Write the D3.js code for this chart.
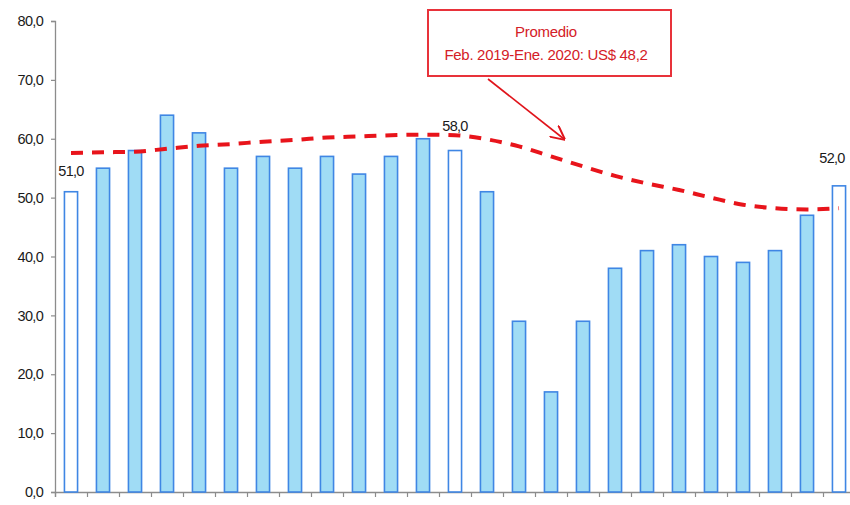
<!DOCTYPE html>
<html>
<head>
<meta charset="utf-8">
<script src="https://cdn.jsdelivr.net/npm/d3@7/dist/d3.min.js"></script>
<style>
  html, body { margin: 0; padding: 0; background: #ffffff; }
  svg { display: block; font-family: "Liberation Sans", Arial, sans-serif; }
</style>
</head>
<body>
<svg id="chart" width="850" height="505"></svg>
<script>
// ---- data ----
const categories = d3.range(25).map(i => "M" + (i + 1));
const barValues = [51, 55, 58, 64, 61, 55, 57, 55, 57, 54, 57, 60, 58, 51, 29, 17, 29, 38, 41, 42, 40, 39, 41, 47, 52];
const highlighted = [true, false, false, false, false, false, false, false, false, false, false, false, true, false, false, false, false, false, false, false, false, false, false, false, true];
const averageValues = [57.6, 57.7, 57.8, 58.3, 58.8, 59.1, 59.5, 59.8, 60.2, 60.4, 60.6, 60.7, 60.6, 59.9, 58.7, 57.0, 55.3, 53.7, 52.4, 51.3, 50.0, 48.8, 48.2, 48.0, 48.2];
const labelledBars = [0, 12, 24];
const yTicks = [0, 10, 20, 30, 40, 50, 60, 70, 80];
const noteLines = ["Promedio", "Feb. 2019-Ene. 2020: US$ 48,2"];

// ---- layout ----
const svg = d3.select("#chart");
const plotLeft = 55, plotRight = 855, plotTop = 21, plotBottom = 492;
const fmt = v => d3.format(".1f")(v).replace(".", ",");

const y = d3.scaleLinear().domain([0, 80]).range([plotBottom, plotTop]);
const x = d3.scaleBand().domain(categories).range([plotLeft, plotRight]).paddingInner(0.59).paddingOuter(0.295);
const xb = d3.scaleLinear().domain([0, categories.length]).range([plotLeft, plotRight]);

// axes
const yAxis = svg.append("g").attr("transform", `translate(${plotLeft},0)`)
  .call(d3.axisLeft(y).tickValues(yTicks).tickFormat(fmt).tickSize(4).tickPadding(8));
const xAxis = svg.append("g").attr("transform", `translate(0,${plotBottom})`)
  .call(d3.axisBottom(xb).tickValues(d3.range(0, categories.length + 1)).tickFormat("").tickSize(5));
[yAxis, xAxis].forEach(g => {
  g.select(".domain").attr("stroke", "#8c8c8c").attr("stroke-width", 1.3);
  g.selectAll(".tick line").attr("stroke", "#8c8c8c").attr("stroke-width", 1.2);
});
yAxis.selectAll(".tick text").attr("font-size", 14.5).attr("fill", "#1a1a1a").attr("letter-spacing", -0.7);

// bars
svg.append("g").selectAll("rect").data(barValues).join("rect")
  .attr("x", (d, i) => x(categories[i]))
  .attr("width", x.bandwidth())
  .attr("y", d => y(d))
  .attr("height", d => y(0) - y(d))
  .attr("fill", (d, i) => highlighted[i] ? "#ffffff" : "#a0dcf5")
  .attr("stroke", "#3f86e4")
  .attr("stroke-width", 1.6);

// average line
const line = d3.line()
  .x((d, i) => x(categories[i]) + x.bandwidth() / 2)
  .y(d => y(d))
  .curve(d3.curveMonotoneX);
svg.append("path").datum(averageValues)
  .attr("d", line)
  .attr("fill", "none")
  .attr("stroke", "#e8141b")
  .attr("stroke-width", 4)
  .attr("stroke-dasharray", "12,9");

// value labels
const labelDy = { 0: 16, 12: 20, 24: 23 };
const labelDx = { 0: 0, 12: 0, 24: -7 };
svg.append("g").selectAll("text").data(labelledBars).join("text")
  .attr("x", i => x(categories[i]) + x.bandwidth() / 2 + labelDx[i])
  .attr("y", i => y(barValues[i]) - labelDy[i])
  .attr("text-anchor", "middle")
  .attr("font-size", 14.5)
  .attr("letter-spacing", -0.7)
  .attr("fill", "#1a1a1a")
  .text(i => fmt(barValues[i]));

// annotation
const note = svg.append("g");
note.append("rect").attr("x", 428).attr("y", 10).attr("width", 243).attr("height", 66)
  .attr("fill", "#ffffff").attr("stroke", "#e8323a").attr("stroke-width", 2);
note.selectAll("text").data(noteLines).join("text")
  .attr("x", 546)
  .attr("y", (d, i) => 37 + i * 23)
  .attr("text-anchor", "middle")
  .attr("font-size", 15)
  .attr("letter-spacing", -0.3)
  .attr("fill", "#d42027")
  .text(d => d);

svg.append("defs").append("marker")
  .attr("id", "arrow").attr("viewBox", "0 0 10 10").attr("refX", 9).attr("refY", 5)
  .attr("markerWidth", 9).attr("markerHeight", 9).attr("orient", "auto")
  .append("path").attr("d", "M0,0 L10,5 L0,10").attr("fill", "none").attr("stroke", "#e0141b").attr("stroke-width", 1.4);
svg.append("line").attr("x1", 488).attr("y1", 79).attr("x2", 564).attr("y2", 139)
  .attr("stroke", "#e0141b").attr("stroke-width", 1.6).attr("marker-end", "url(#arrow)");
</script>
</body>
</html>
